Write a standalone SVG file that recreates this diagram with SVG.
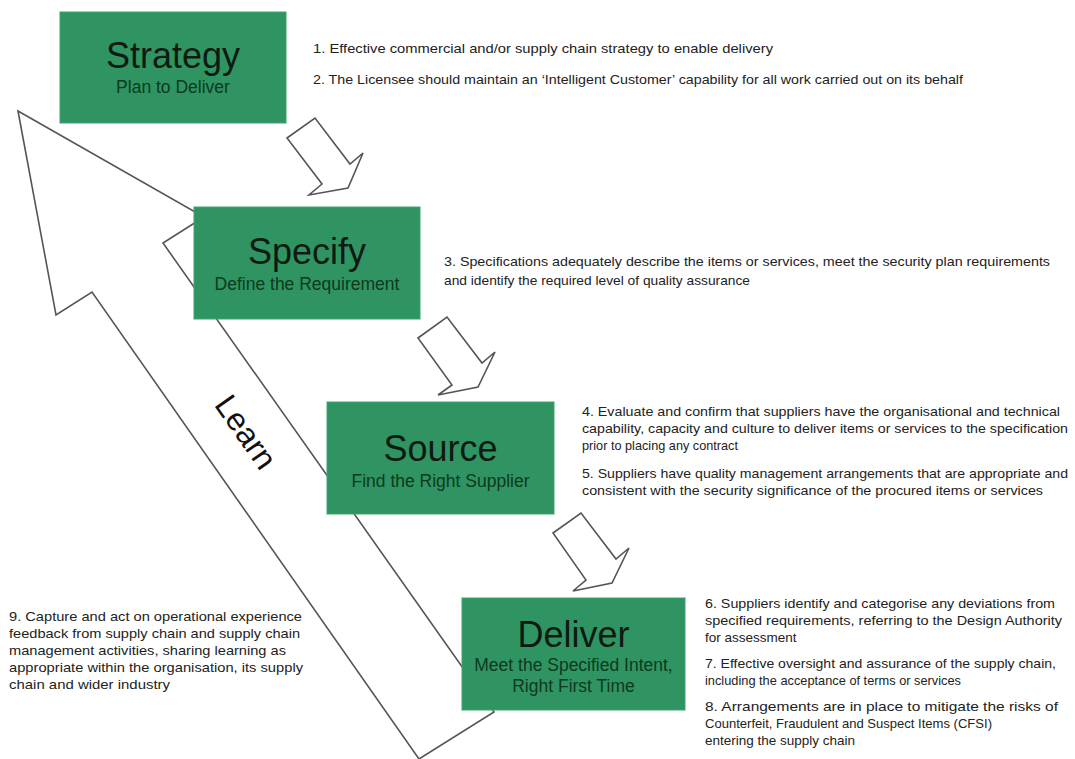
<svg xmlns="http://www.w3.org/2000/svg" width="1075" height="759" viewBox="0 0 1075 759">
<style>
.box{fill:#2f9462;stroke:#3aa56f;stroke-width:1}
.ttl{font-family:"Liberation Sans",Arial,sans-serif;font-size:36px;fill:#0e1a12;text-anchor:middle}
.sub{font-family:"Liberation Sans",Arial,sans-serif;font-size:17.5px;fill:#0b3a1e;text-anchor:middle}
.arr{fill:#fff;stroke:#555;stroke-width:1.6;stroke-linejoin:miter}
.t{font-family:"Liberation Sans",Arial,sans-serif;font-size:13.5px;fill:#222}
.learn{font-family:"Liberation Sans",Arial,sans-serif;font-size:32px;fill:#111;text-anchor:middle}
</style>
<rect width="1075" height="759" fill="#fff"/>
<g id="connectors">
<polygon id="learn-arrow" class="arr" points="18,111 204,217 163,243 494,712 419,759 92,292 56,315"/>
</g>
<g id="strategy">
<rect class="box" x="60" y="12" width="226" height="111"/>
<text class="ttl" x="173" y="68">Strategy</text>
<text class="sub" x="173" y="93">Plan to Deliver</text>
</g>
<g id="specify">
<rect class="box" x="194" y="207" width="226" height="112"/>
<text class="ttl" x="307" y="264">Specify</text>
<text class="sub" x="307" y="290">Define the Requirement</text>
</g>
<g id="source">
<rect class="box" x="327" y="402" width="227" height="112"/>
<text class="ttl" x="440.5" y="461">Source</text>
<text class="sub" x="440.5" y="487">Find the Right Supplier</text>
</g>
<g id="deliver">
<rect class="box" x="462" y="598" width="223" height="112"/>
<text class="ttl" x="573.5" y="647">Deliver</text>
<text class="sub" x="573.5" y="671">Meet the Specified Intent,</text>
<text class="sub" x="573.5" y="692">Right First Time</text>
</g>
<g id="flow-arrows">
<polygon class="arr" points="287,138 315,118 350,164 363,153 348,188 309,195 322,184"/>
<polygon class="arr" points="418,338 447,317 482,363 495,352 478,387 438,395 452,385"/>
<polygon class="arr" points="553,533 581,513 616,559 629,548 612,583 573,591 586,580"/>
</g>
<g id="learn-label">
<text class="learn" transform="translate(246,432) rotate(55)" x="0" y="11">Learn</text>
</g>
<g id="notes-strategy">
<text class="t" x="313" y="53" textLength="460" lengthAdjust="spacingAndGlyphs">1. Effective commercial and/or supply chain strategy to enable delivery</text>
<text class="t" x="313" y="84" textLength="650" lengthAdjust="spacingAndGlyphs">2. The Licensee should maintain an ‘Intelligent Customer’ capability for all work carried out on its behalf</text>
</g>
<g id="notes-specify">
<text class="t" x="444" y="266" textLength="606" lengthAdjust="spacingAndGlyphs">3. Specifications adequately describe the items or services, meet the security plan requirements</text>
<text class="t" x="444" y="285" textLength="306" lengthAdjust="spacingAndGlyphs">and identify the required level of quality assurance</text>
</g>
<g id="notes-source">
<text class="t" x="582" y="416" textLength="478" lengthAdjust="spacingAndGlyphs">4. Evaluate and confirm that suppliers have the organisational and technical</text>
<text class="t" x="582" y="433" textLength="486" lengthAdjust="spacingAndGlyphs">capability, capacity and culture to deliver items or services to the specification</text>
<text class="t" x="582" y="450" textLength="156" lengthAdjust="spacingAndGlyphs">prior to placing any contract</text>
<text class="t" x="582" y="478" textLength="486" lengthAdjust="spacingAndGlyphs">5. Suppliers have quality management arrangements that are appropriate and</text>
<text class="t" x="582" y="495" textLength="461" lengthAdjust="spacingAndGlyphs">consistent with the security significance of the procured items or services</text>
</g>
<g id="notes-deliver">
<text class="t" x="705" y="608" textLength="350" lengthAdjust="spacingAndGlyphs">6. Suppliers identify and categorise any deviations from</text>
<text class="t" x="705" y="625" textLength="357" lengthAdjust="spacingAndGlyphs">specified requirements, referring to the Design Authority</text>
<text class="t" x="705" y="642">for assessment</text>
<text class="t" x="705" y="668" textLength="351" lengthAdjust="spacingAndGlyphs">7. Effective oversight and assurance of the supply chain,</text>
<text class="t" x="705" y="685" textLength="256" lengthAdjust="spacingAndGlyphs">including the acceptance of terms or services</text>
<text class="t" x="705" y="711" textLength="353" lengthAdjust="spacingAndGlyphs">8. Arrangements are in place to mitigate the risks of</text>
<text class="t" x="705" y="728" textLength="287" lengthAdjust="spacingAndGlyphs">Counterfeit, Fraudulent and Suspect Items (CFSI)</text>
<text class="t" x="705" y="745">entering the supply chain</text>
</g>
<g id="notes-learn">
<text class="t" x="9" y="621" textLength="293" lengthAdjust="spacingAndGlyphs">9. Capture and act on operational experience</text>
<text class="t" x="9" y="638" textLength="291" lengthAdjust="spacingAndGlyphs">feedback from supply chain and supply chain</text>
<text class="t" x="9" y="655" textLength="277" lengthAdjust="spacingAndGlyphs">management activities, sharing learning as</text>
<text class="t" x="9" y="672" textLength="294" lengthAdjust="spacingAndGlyphs">appropriate within the organisation, its supply</text>
<text class="t" x="9" y="689" textLength="161" lengthAdjust="spacingAndGlyphs">chain and wider industry</text>
</g>
</svg>
